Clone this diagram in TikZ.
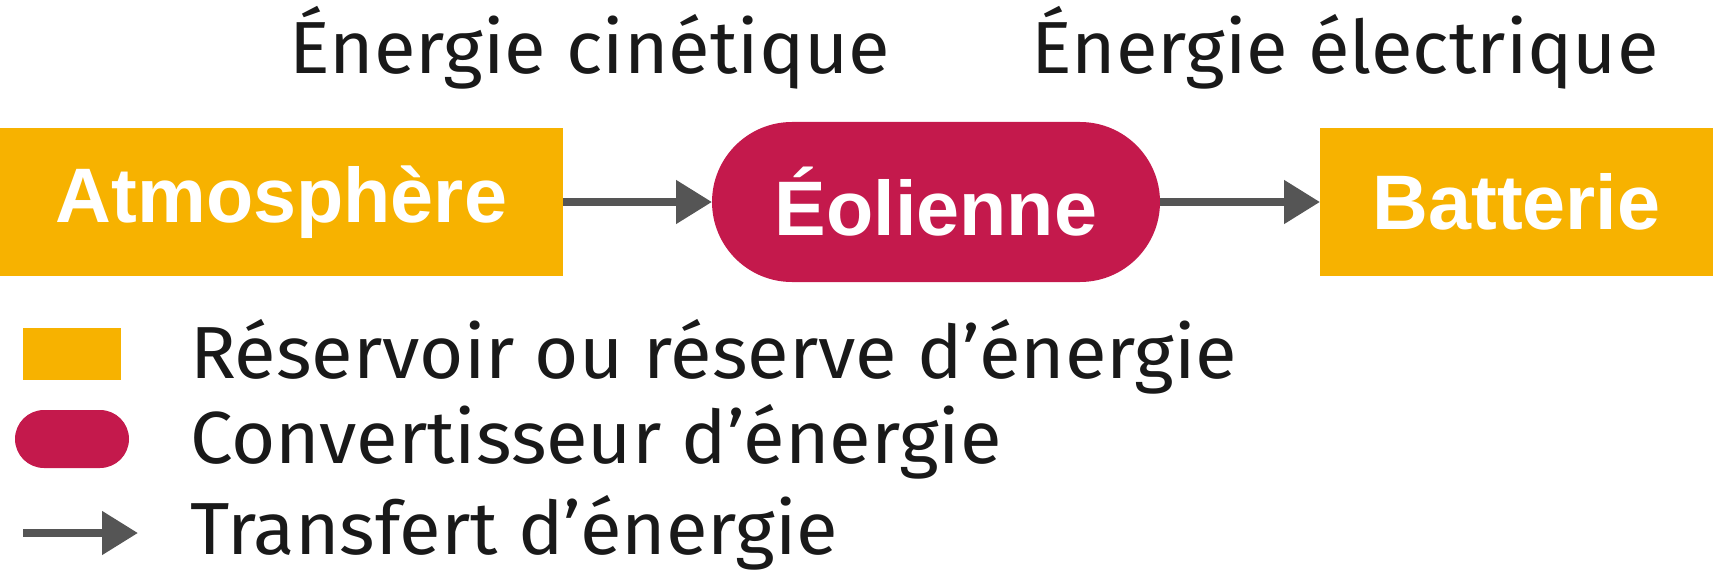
\documentclass[tikz,border=0pt]{standalone}
\usepackage{fontspec}
\setmainfont[FakeStretch=1.03]{Fira Sans}
\newfontfamily\labelfont{Liberation Sans}
\usetikzlibrary{arrows.meta,shapes}
\usepackage{xcolor}
\definecolor{reserve}{HTML}{F7B200}
\definecolor{convert}{HTML}{C4194C}
\definecolor{transfer}{HTML}{555555}

\begin{document}
\begin{tikzpicture}[>={Triangle[length=.36cm,width=.42cm]},line width=.08cm]
\tikzstyle{res}=[rectangle,fill=reserve,inner sep=0,outer sep=0,minimum height=1.48cm,text=white,font=\labelfont\bfseries\fontsize{22}{24}\selectfont]
\tikzstyle{conv}=[rectangle,rounded corners=.8cm,fill=convert,inner sep=0,outer sep=0,minimum height=1.6cm,text=white,font=\labelfont\bfseries\fontsize{22}{24}\selectfont]
\tikzstyle{txt}=[inner sep=0,outer sep=0,text=black!90,font=\fontsize{21}{24}\selectfont]
\tikzstyle{flow}=[->,draw=transfer,fill=transfer]
\useasboundingbox (0,0) rectangle (17.13,5.77);
\node(atmo)at(2.815,3.75)[res,minimum width=5.63cm]{Atmosphère};
\node(eol)at(9.36,3.75)[conv,minimum width=4.48cm]{Éolienne};
\node(bat)at(15.165,3.75)[res,minimum width=3.93cm]{Batterie};
\node(e-cin)at(5.90,5.03)[txt,anchor=base]{Énergie cinétique};
\node(e-elec)at(13.45,5.03)[txt,anchor=base]{Énergie électrique};
\draw[flow](atmo)--(eol);
\draw[flow](eol)--(bat);
% legende
\node(leg-res)at(.72,2.23)[rectangle,fill=reserve,minimum width=.98cm,minimum height=.52cm,inner sep=0]{};
\node(leg-conv)at(.72,1.38)[rectangle,rounded corners=.29cm,fill=convert,minimum width=1.14cm,minimum height=.58cm,inner sep=0]{};
\coordinate(leg-a)at(.23,.44);
\coordinate(leg-b)at(1.38,.44);
\draw[flow](leg-a)--(leg-b);
\node(txt-res)at(1.90,1.99)[txt,anchor=base west]{Réservoir ou réserve d’énergie};
\node(txt-conv)at(1.90,1.14)[txt,anchor=base west]{Convertisseur d’énergie};
\node(txt-flow)at(1.90,.23)[txt,anchor=base west]{Transfert d’énergie};
\end{tikzpicture}
\end{document}
